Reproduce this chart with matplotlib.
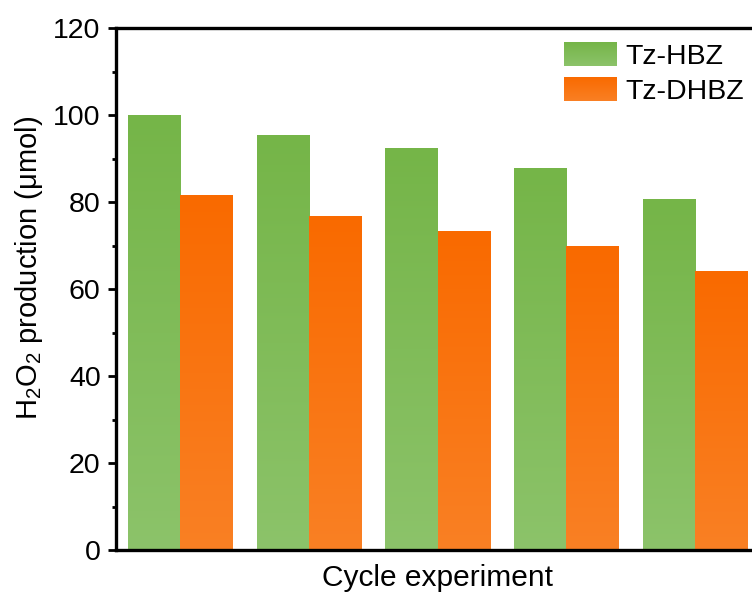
import numpy as np
import matplotlib
matplotlib.use('Agg')
import matplotlib.pyplot as plt
from matplotlib.colors import LinearSegmentedColormap

plt.rcParams['font.family'] = ['Liberation Sans', 'DejaVu Sans']
plt.rcParams['mathtext.default'] = 'regular'

cycles = [1, 2, 3, 4, 5]
hbz = [100.0, 95.4, 92.2, 87.6, 80.5]
dhbz = [81.4, 76.6, 73.3, 69.7, 64.1]
labels = ['Tz-HBZ', 'Tz-DHBZ']

# top colour -> bottom colour
green = ('#75b548', '#8cc36a')
orange = ('#fa6a00', '#f98024')

fig = plt.figure(figsize=(7.52, 5.99), dpi=100)
ax = fig.add_axes([116 / 752, 49 / 599, 643 / 752, 522 / 599])

x = np.arange(len(cycles))
w = 0.405
b1 = ax.bar(x - w / 2, hbz, w, color=green[0], label=labels[0], zorder=1)
b2 = ax.bar(x + w / 2, dhbz, w, color=orange[0], label=labels[1], zorder=1)

grad = np.linspace(0, 1, 256).reshape(-1, 1)


def fill_gradient(a, bars, cols):
    cmap = LinearSegmentedColormap.from_list('g', [cols[1], cols[0]])
    for p in bars:
        x0, y0 = p.get_x(), p.get_y()
        x1, y1 = x0 + p.get_width(), y0 + p.get_height()
        a.imshow(grad, cmap=cmap, extent=(x0, x1, y0, y1), origin='lower',
                 aspect='auto', zorder=2, interpolation='bilinear')


fill_gradient(ax, b1, green)
fill_gradient(ax, b2, orange)

ax.set_xlim(-0.5, 4.5)
ax.set_ylim(0, 120)
ax.set_yticks(np.arange(0, 121, 20))
ax.set_yticks(np.arange(10, 120, 20), minor=True)
ax.set_xticks([])
ax.tick_params(axis='y', which='major', length=6, width=2, labelsize=20.5, pad=5)
ax.tick_params(axis='y', which='minor', length=3, width=2)
for s in ax.spines.values():
    s.set_linewidth(2.4)

ax.set_ylabel('H$_2$O$_2$ production (μmol)', fontsize=21)
ax.yaxis.set_label_coords(-0.11, 0.54)
ax.set_xlabel('Cycle experiment', fontsize=21.5, labelpad=10)

leg = ax.legend(loc='upper right', bbox_to_anchor=(0.977, 0.973),
                frameon=False, fontsize=20.5, handlelength=1.86,
                handleheight=0.9, handletextpad=0.3, labelspacing=0.27,
                borderaxespad=0, borderpad=0)

fig.canvas.draw()
inv = fig.transFigure.inverted()
for patch, cols in zip(leg.get_patches(), [green, orange]):
    bb = patch.get_window_extent().transformed(inv)
    lax = fig.add_axes([bb.x0, bb.y0, bb.width, bb.height])
    cmap = LinearSegmentedColormap.from_list('g', [cols[1], cols[0]])
    lax.imshow(grad, cmap=cmap, origin='lower', aspect='auto')
    lax.axis('off')

fig.savefig('out.png', dpi=100)
